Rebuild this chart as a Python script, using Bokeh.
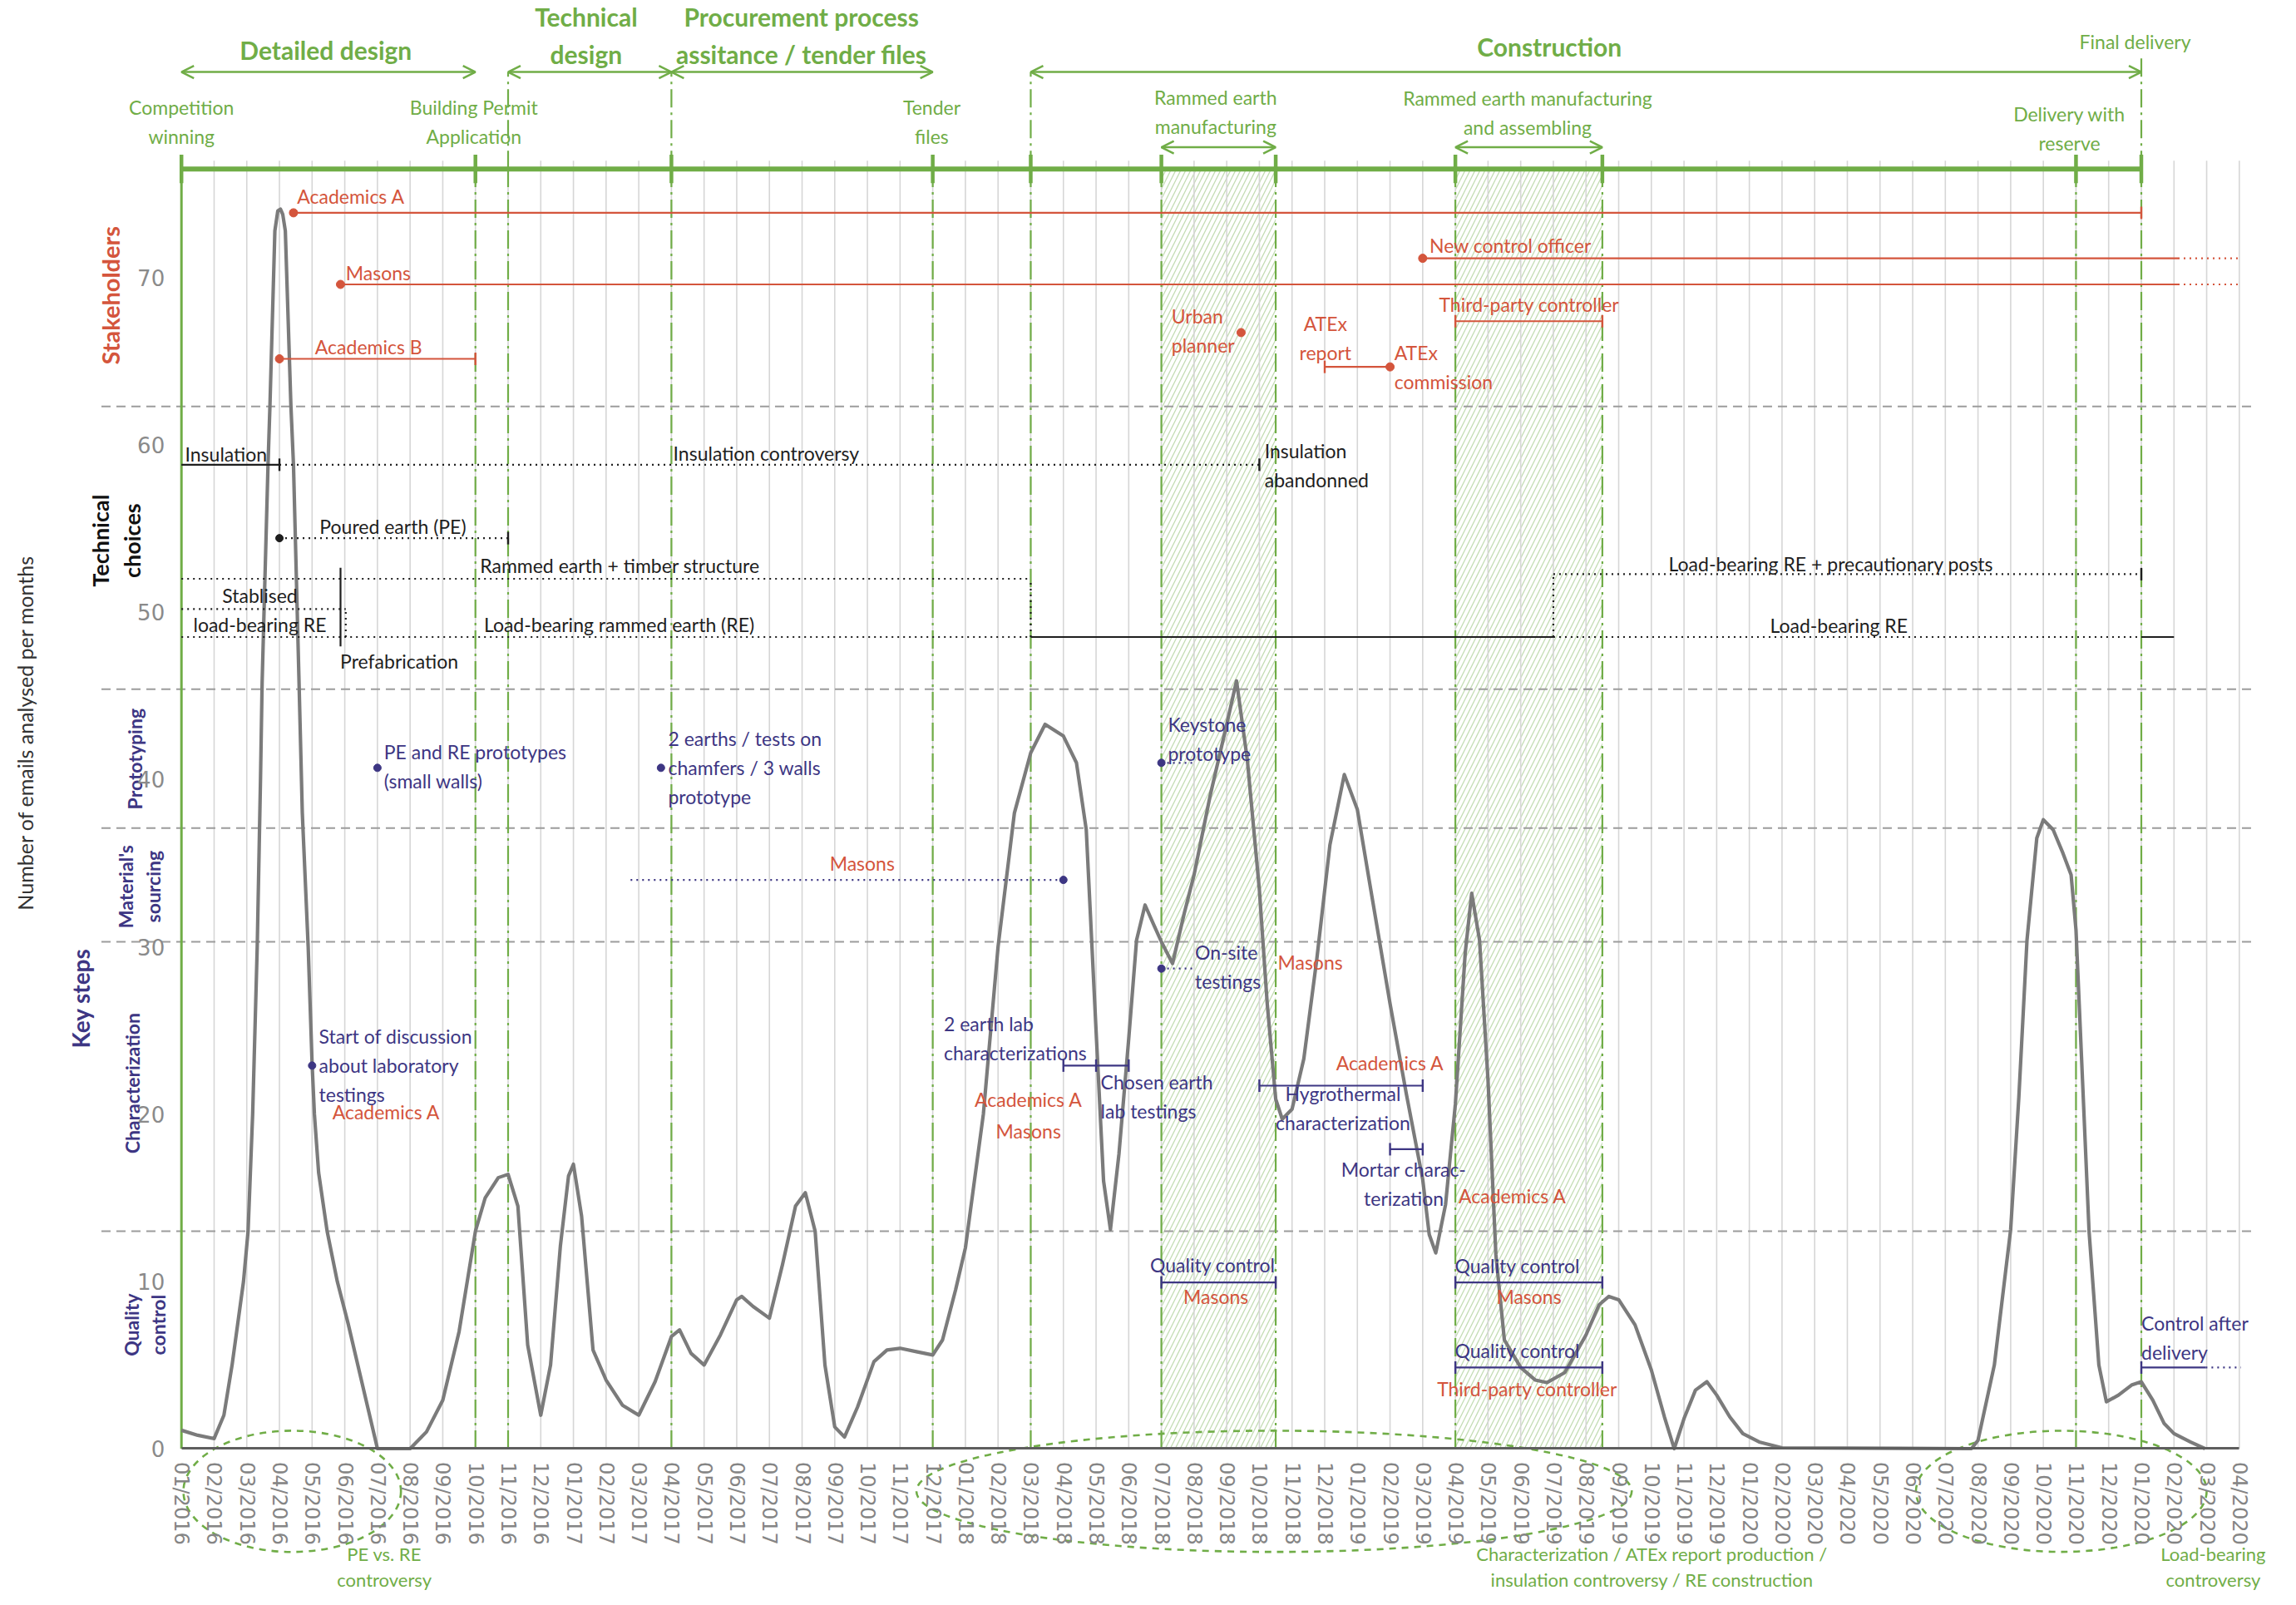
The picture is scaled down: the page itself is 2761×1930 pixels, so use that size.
import math
from bokeh.plotting import figure
from bokeh.models import Range1d, LinearAxis, FixedTicker, Arrow, OpenHead, ColumnDataSource
from bokeh.core.properties import value
from bokeh.embed import file_html
from bokeh.resources import INLINE

# ---------------- data ----------------
MONTH_LABELS = [
    "01/2016", "02/2016", "03/2016", "04/2016", "05/2016", "06/2016", "07/2016", "08/2016",
    "09/2016", "10/2016", "11/2016", "12/2016", "01/2017", "02/2017", "03/2017", "04/2017",
    "05/2017", "06/2017", "07/2017", "08/2017", "09/2017", "10/2017", "11/2017", "12/2017",
    "01/2018", "02/2018", "03/2018", "04/2018", "05/2018", "06/2018", "07/2018", "08/2018",
    "09/2018", "10/2018", "11/2018", "12/2018", "01/2019", "02/2019", "03/2019", "04/2019",
    "05/2019", "06/2019", "07/2019", "08/2019", "09/2019", "10/2019", "11/2019", "12/2019",
    "01/2020", "02/2020", "03/2020", "04/2020", "05/2020", "06/2020", "07/2020", "08/2020",
    "09/2020", "10/2020", "11/2020", "12/2020", "01/2020", "02/2020", "03/2020", "04/2020",
]
Y_TICKS = [0, 10, 20, 30, 40, 50, 60, 70]

# emails per month (month index, value)
CURVE_X = [0.0, 0.5, 1.0, 1.3, 1.55, 1.9, 2.04, 2.18, 2.32, 2.42, 2.47, 2.65, 2.71, 2.86, 2.95,
           3.03, 3.1, 3.18, 3.35, 3.43, 3.6, 3.7, 3.88, 4.0, 4.07, 4.2, 4.46, 4.77, 5.1, 5.4,
           5.7, 6.0, 7.0, 7.5, 8.0, 8.5, 9.0, 9.3, 9.7, 10.0, 10.3, 10.6, 11.0, 11.3, 11.6,
           11.85, 12.0, 12.25, 12.6, 13.0, 13.5, 14.0, 14.5, 15.0, 15.25, 15.6, 16.0, 16.5,
           17.0, 17.15, 17.5, 18.0, 18.4, 18.8, 19.1, 19.4, 19.7, 20.0, 20.3, 20.7, 21.2, 21.6,
           22.0, 22.5, 23.0, 23.3, 23.7, 24.0, 24.55, 25.0, 25.5, 26.0, 26.44, 27.0, 27.4, 27.7,
           28.0, 28.23, 28.44, 28.7, 29.0, 29.24, 29.5, 29.77, 30.0, 30.34, 30.7, 31.0, 31.5,
           32.0, 32.3, 32.63, 33.0, 33.24, 33.5, 33.7, 34.0, 34.36, 34.76, 35.16, 35.6, 36.0,
           36.36, 37.0, 37.5, 38.0, 38.2, 38.4, 38.7, 39.0, 39.3, 39.5, 39.74, 40.0, 40.24,
           40.5, 41.0, 41.45, 41.8, 42.35, 43.0, 43.4, 43.7, 44.0, 44.5, 45.0, 45.4, 45.7,
           46.0, 46.35, 46.7, 47.0, 47.4, 47.8, 48.3, 49.0, 54.8, 55.0, 55.5, 56.0, 56.25,
           56.5, 56.8, 57.0, 57.3, 57.6, 57.85, 58.0, 58.2, 58.4, 58.7, 58.93, 59.3, 59.7,
           60.0, 60.35, 60.7, 61.0, 61.5, 61.95]
CURVE_Y = [1.1, 0.8, 0.6, 2.0, 5.0, 10.0, 13.0, 20.0, 30.0, 40.0, 45.8, 58.8, 62.4, 72.8, 74.0,
           74.1, 73.8, 72.8, 62.4, 58.8, 45.8, 38.0, 30.0, 23.0, 20.0, 16.5, 13.0, 10.0, 7.5, 5.0,
           2.5, 0.0, 0.0, 1.0, 2.9, 7.0, 13.0, 15.0, 16.2, 16.4, 14.5, 6.2, 2.0, 5.0, 12.1,
           16.3, 17.0, 13.9, 5.9, 4.1, 2.6, 2.0, 4.0, 6.7, 7.1, 5.7, 5.0, 6.8,
           8.9, 9.1, 8.5, 7.8, 11.0, 14.5, 15.3, 13.0, 5.0, 1.3, 0.7, 2.5, 5.2, 5.9,
           6.0, 5.8, 5.6, 6.5, 9.5, 12.0, 20.0, 30.0, 38.0, 41.6, 43.3, 42.6, 41.0, 37.0,
           25.0, 16.0, 13.1, 17.6, 24.5, 30.4, 32.5, 31.3, 30.3, 29.0, 32.0, 34.3, 39.1,
           43.3, 45.9, 41.2, 33.4, 26.6, 20.9, 19.7, 20.3, 23.3, 29.3, 36.1, 40.3, 38.2,
           34.0, 26.6, 21.2, 16.1, 12.8, 11.7, 14.6, 20.6, 29.6, 33.2, 30.4, 22.0, 11.6,
           6.5, 4.85, 4.1, 3.95, 4.55, 6.8, 8.6, 9.1, 8.9, 7.4, 4.7, 1.9, 0.0,
           1.8, 3.5, 4.0, 3.2, 1.9, 0.9, 0.4, 0.05, 0.0, 0.5, 5.0, 13.1, 21.0,
           30.4, 36.5, 37.6, 37.0, 35.6, 34.3, 31.0, 22.0, 13.0, 5.0, 2.8, 3.2, 3.8,
           4.0, 2.9, 1.5, 0.9, 0.4, 0.0]

# project timeline
TIMELINE_LEVEL = 76.5
TIMELINE_START, TIMELINE_END = 0, 60
MILESTONE_X = [0, 9, 15, 23, 26, 30, 33.5, 39, 43.5, 58, 60]
BOUNDARY_X = [9, 10, 15, 23, 26, 30, 33.5, 39, 43.5, 58, 60]
UPPER_BOUNDARY_X = [10, 15, 26, 60]
UPPER_BOUNDARY_TOP = [82.3, 82.3, 82.3, 83.3]

PHASE_NAMES = ["Detailed design", "Technical\ndesign",
               "Procurement process\nassitance / tender files", "Construction"]
PHASE_START = [0, 10, 15, 26]
PHASE_END = [9, 15, 23, 60]
PHASE_LEVEL = [82.3, 82.3, 82.3, 82.3]
PHASE_LABEL_X = [4.42, 12.39, 18.98, 41.88]
PHASE_LABEL_Y = [83.6, 84.5, 84.5, 83.8]

SUBPHASE_START = [30, 39]
SUBPHASE_END = [33.5, 43.5]
SUBPHASE_LEVEL = [77.8, 77.8]

MILESTONE_NAMES = ["Competition\nwinning", "Building Permit\nApplication", "Tender\nfiles",
                   "Rammed earth\nmanufacturing", "Rammed earth manufacturing\nand assembling",
                   "Delivery with\nreserve", "Final delivery"]
MILESTONE_LABEL_X = [0, 8.95, 22.97, 31.66, 41.21, 57.8, 59.81]
MILESTONE_LABEL_Y = [79.3, 79.3, 79.3, 79.9, 79.85, 78.9, 84.1]

SECTION_BREAKS = [62.3, 45.4, 37.1, 30.3, 13.0]

# controversies (ellipses)
CONTRO_NAMES = ["PE vs. RE\ncontroversy",
                "Characterization / ATEx report production /\ninsulation controversy / RE construction",
                "Load-bearing\ncontroversy"]
CONTRO_X = [3.39, 33.45, 57.55]
CONTRO_W = [6.66, 21.9, 8.9]
CONTRO_LABEL_X = [6.21, 45.02, 62.2]

# stakeholders (red)
RED_LINE_X0 = [3.43, 4.87, 3.0, 38.0, 39.0, 35.0]
RED_LINE_X1 = [60.0, 61.12, 9.0, 61.12, 43.5, 37.0]
RED_LINE_Y = [73.88, 69.6, 65.15, 71.16, 67.4, 64.67]
RED_DOT_LINE_X0 = [61.12, 61.12]
RED_DOT_LINE_X1 = [63.0, 63.0]
RED_DOT_LINE_Y = [69.6, 71.16]
RED_DOTS_X = [3.43, 4.87, 3.0, 38.0, 32.44, 37.0]
RED_DOTS_Y = [73.88, 69.6, 65.15, 71.16, 66.72, 64.67]
RED_TICKS_X = [60, 9, 39, 43.5, 35]
RED_TICKS_Y = [73.88, 65.15, 67.4, 67.4, 64.67]

# technical choices (black)
BLK_LINE_X0 = [0, 26, 60, 4.87]
BLK_LINE_X1 = [3, 42, 61, 4.87]
BLK_LINE_Y0 = [58.82, 48.52, 48.52, 47.96]
BLK_LINE_Y1 = [58.82, 48.52, 48.52, 52.66]
BLK_DOT_X0 = [3, 3, 0, 0, 0, 42, 42, 26, 5.03, 42]
BLK_DOT_X1 = [33, 10, 26, 5.03, 26, 60, 60, 26, 5.03, 42]
BLK_DOT_Y0 = [58.82, 54.43, 52.0, 50.19, 48.52, 52.28, 48.52, 48.52, 48.52, 48.52]
BLK_DOT_Y1 = [58.82, 54.43, 52.0, 50.19, 48.52, 52.28, 48.52, 52.0, 50.19, 52.28]
BLK_TICKS_X = [3, 33, 10, 60]
BLK_TICKS_Y = [58.82, 58.82, 54.43, 52.28]
BLK_DOTS_X = [3.0]
BLK_DOTS_Y = [54.43]

# key steps (purple)
PUR_LINE_X0 = [27, 33, 37, 30, 39, 39, 60]
PUR_LINE_X1 = [29, 38, 38, 33.5, 43.5, 43.5, 61.97]
PUR_LINE_Y = [22.9, 21.7, 17.9, 9.94, 9.94, 4.85, 4.85]
PUR_DOT_LINE_X0 = [13.75, 30, 30, 61.97]
PUR_DOT_LINE_X1 = [27, 31.03, 31.03, 63.05]
PUR_DOT_LINE_Y = [34.0, 41.0, 28.7, 4.85]
PUR_TICKS_X = [27, 28, 29, 33, 38, 37, 38, 30, 33.5, 39, 43.5, 39, 43.5, 60]
PUR_TICKS_Y = [22.9, 22.9, 22.9, 21.7, 21.7, 17.9, 17.9, 9.94, 9.94, 9.94, 9.94, 4.85, 4.85, 4.85]
PUR_DOTS_X = [6.0, 14.68, 4.0, 27, 30, 30]
PUR_DOTS_Y = [40.7, 40.7, 22.9, 34.0, 41.0, 28.7]

# annotation texts
RED_TEXT = ["Academics A", "Masons", "Academics B", "New control officer", "Third-party controller",
            "Urban\nplanner", "ATEx\ncommission", "Academics A", "Masons", "Academics A"]
RED_TEXT_X = [3.54, 5.03, 4.09, 38.21, 38.5, 30.31, 37.13, 4.62, 33.56, 39.1]
RED_TEXT_Y = [74.88, 70.3, 65.85, 71.95, 68.4, 66.83, 64.65, 20.15, 29.1, 15.1]
RED_CTEXT = ["ATEx\nreport", "Masons", "Academics A", "Masons", "Academics A", "Masons", "Masons",
             "Third-party controller"]
RED_CTEXT_X = [35.02, 20.84, 25.93, 25.93, 37.0, 31.67, 41.25, 41.2]
RED_CTEXT_Y = [66.39, 35.0, 20.9, 19.0, 23.05, 9.1, 9.1, 3.6]

BLK_TEXT = ["Insulation", "Insulation\nabandonned", "Poured earth (PE)",
            "Rammed earth + timber structure", "Load-bearing rammed earth (RE)", "Prefabrication"]
BLK_TEXT_X = [0.11, 33.16, 4.23, 9.14, 9.26, 4.86]
BLK_TEXT_Y = [59.47, 58.8, 55.13, 52.8, 49.29, 47.1]
BLK_CTEXT = ["Insulation controversy", "Stablised\nload-bearing RE",
             "Load-bearing RE + precautionary posts", "Load-bearing RE"]
BLK_CTEXT_X = [17.9, 2.4, 50.5, 50.74]
BLK_CTEXT_Y = [59.5, 50.15, 52.9, 49.2]

PUR_TEXT = ["PE and RE prototypes\n(small walls)", "2 earths / tests on\nchamfers / 3 walls\nprototype",
            "Start of discussion\nabout laboratory\ntestings", "2 earth lab\ncharacterizations",
            "Chosen earth\nlab testings", "Keystone\nprototype", "On-site\ntestings",
            "Control after\ndelivery"]
PUR_TEXT_X = [6.2, 14.9, 4.21, 23.34, 28.14, 30.2, 31.03, 60.0]
PUR_TEXT_Y = [40.8, 40.7, 22.9, 24.55, 21.05, 42.45, 28.8, 6.65]
PUR_CTEXT = ["Hygrothermal\ncharacterization", "Mortar charac-\nterization",
             "Quality control", "Quality control", "Quality control"]
PUR_CTEXT_X = [35.56, 37.42, 31.57, 40.9, 40.9]
PUR_CTEXT_Y = [20.35, 15.85, 11.0, 10.94, 5.87]

SIDE_LABELS = ["Stakeholders", "Technical\nchoices", "Key steps", "Prototyping",
               "Material's\nsourcing", "Characterization", "Quality\ncontrol"]
SIDE_X = [-2.18, -2.0, -3.08, -1.42, -1.29, -1.51, -1.13]
SIDE_Y = [68.94, 54.28, 26.92, 41.23, 33.6, 21.84, 7.4]
SIDE_COLORS = ["#d4553c", "#111111", "#3d3683", "#3d3683", "#3d3683", "#3d3683", "#3d3683"]
SIDE_SIZES = ["29px", "27px", "28px", "23px", "23px", "23px", "23px"]
Y_TITLE = "Number of emails analysed per months"

# ---------------- styling ----------------
G = "#70ad47"
RED = "#d4553c"
PUR = "#3d3683"
BLK = "#1e1e1e"
FONT = value("Lato")
FS = value("23px")

W, H = 2745, 1914
# ranges calibrated so that month 0 / value 0 fall where they do in the reference picture
p = figure(width=W, height=H, x_range=Range1d(-5.5422, 64.3406), y_range=Range1d(-8.5757, 86.577),
           output_backend="svg", toolbar_location=None, x_axis_type=None, y_axis_type=None,
           min_border=0, min_border_left=0, min_border_right=0, min_border_top=0, min_border_bottom=0,
           outline_line_color=None, background_fill_color="white", border_fill_color="white")
p.xgrid.visible = False
p.ygrid.visible = False

# axes
xaxis = LinearAxis(fixed_location=0, bounds=(0, len(MONTH_LABELS) - 1),
                   ticker=FixedTicker(ticks=list(range(len(MONTH_LABELS)))),
                   major_label_overrides={i: s for i, s in enumerate(MONTH_LABELS)},
                   major_label_orientation=-math.pi / 2,
                   axis_line_color="#5e5e5e", axis_line_width=3,
                   major_tick_line_color=None, minor_tick_line_color=None,
                   major_label_text_font="DejaVu Sans", major_label_text_font_size="24px",
                   major_label_text_color="#858585", major_label_standoff=10)
p.add_layout(xaxis, "below")
yaxis = LinearAxis(fixed_location=0, ticker=FixedTicker(ticks=Y_TICKS),
                   axis_line_color=None, major_tick_line_color=None, minor_tick_line_color=None,
                   major_label_text_font="DejaVu Sans", major_label_text_font_size="26px",
                   major_label_text_color="#8a8a8a", major_label_standoff=14)
p.add_layout(yaxis, "left")

# hatched manufacturing periods
p.quad(left=SUBPHASE_START, right=SUBPHASE_END, bottom=[0, 0], top=[TIMELINE_LEVEL] * 2,
       fill_color=None, line_color=None, hatch_pattern="right_diagonal_line",
       hatch_color="#c3dcb3", hatch_scale=12, hatch_weight=1.3)

# monthly gridlines
gx = list(range(1, len(MONTH_LABELS)))
p.segment(x0=gx, y0=[0] * len(gx), x1=gx, y1=[77.0] * len(gx), line_color="#d6d6d6", line_width=1.6)

# section separators
n = len(SECTION_BREAKS)
p.segment(x0=[-2.45] * n, y0=SECTION_BREAKS, x1=[63.45] * n, y1=SECTION_BREAKS,
          line_color="#9c9c9c", line_width=2, line_dash="11 7")

# phase boundaries
nb = len(BOUNDARY_X)
p.segment(x0=BOUNDARY_X, y0=[0] * nb, x1=BOUNDARY_X, y1=[TIMELINE_LEVEL] * nb,
          line_color=G, line_width=2.2, line_dash="22 6 3 6")
p.segment(x0=UPPER_BOUNDARY_X, y0=[TIMELINE_LEVEL] * len(UPPER_BOUNDARY_X), x1=UPPER_BOUNDARY_X,
          y1=UPPER_BOUNDARY_TOP, line_color=G, line_width=2.2, line_dash="22 6 3 6")
# start line (y axis)
p.segment(x0=[0], y0=[0], x1=[0], y1=[TIMELINE_LEVEL], line_color=G, line_width=3)

# timeline
p.segment(x0=[TIMELINE_START], y0=[TIMELINE_LEVEL], x1=[TIMELINE_END], y1=[TIMELINE_LEVEL],
          line_color=G, line_width=6)
nm = len(MILESTONE_X)
p.segment(x0=MILESTONE_X, y0=[75.65] * nm, x1=MILESTONE_X, y1=[77.35] * nm, line_color=G, line_width=4.5)

# phase arrows
for xs, xe, lv in [(PHASE_START, PHASE_END, PHASE_LEVEL), (SUBPHASE_START, SUBPHASE_END, SUBPHASE_LEVEL)]:
    src = ColumnDataSource(dict(x0=xs, x1=xe, y=lv))
    p.add_layout(Arrow(x_start="x0", y_start="y", x_end="x1", y_end="y", source=src,
                       line_color=G, line_width=2.5,
                       start=OpenHead(size=15, line_color=G, line_width=2.5),
                       end=OpenHead(size=15, line_color=G, line_width=2.5)))

# controversies
p.ellipse(x=CONTRO_X, y=[-2.55] * 3, width=CONTRO_W, height=[7.25] * 3,
          fill_color=None, line_color=G, line_width=2.6, line_dash="8 7")

# emails curve
p.line(CURVE_X, CURVE_Y, line_color="#7b7b7b", line_width=4.2, line_join="round")


def seg(x0, x1, y0, y1, color, dash="solid", width=2.2):
    p.segment(x0=x0, x1=x1, y0=y0, y1=y1, line_color=color, line_width=width, line_dash=dash)


def ticks(x, y, color):
    p.scatter(x=x, y=y, marker="dash", angle=math.pi / 2, size=15, line_color=color, line_width=2.4)


def dots(x, y, color, size=10):
    p.scatter(x=x, y=y, marker="circle", size=size, fill_color=color, line_color=color)


# stakeholders
seg(RED_LINE_X0, RED_LINE_X1, RED_LINE_Y, RED_LINE_Y, RED)
seg(RED_DOT_LINE_X0, RED_DOT_LINE_X1, RED_DOT_LINE_Y, RED_DOT_LINE_Y, RED, "2 5")
ticks(RED_TICKS_X, RED_TICKS_Y, RED)
dots(RED_DOTS_X, RED_DOTS_Y, RED)

# technical choices
seg(BLK_LINE_X0, BLK_LINE_X1, BLK_LINE_Y0, BLK_LINE_Y1, BLK)
seg(BLK_DOT_X0, BLK_DOT_X1, BLK_DOT_Y0, BLK_DOT_Y1, BLK, "2 5")
ticks(BLK_TICKS_X, BLK_TICKS_Y, BLK)
dots(BLK_DOTS_X, BLK_DOTS_Y, BLK, 9)

# key steps
seg(PUR_LINE_X0, PUR_LINE_X1, PUR_LINE_Y, PUR_LINE_Y, PUR)
seg(PUR_DOT_LINE_X0, PUR_DOT_LINE_X1, PUR_DOT_LINE_Y, PUR_DOT_LINE_Y, PUR, "2 5")
ticks(PUR_TICKS_X, PUR_TICKS_Y, PUR)
dots(PUR_DOTS_X, PUR_DOTS_Y, PUR, 9)


def texts(t, x, y, color, align="left", size=FS, bold=False, angle=0.0, lh=1.25):
    p.text(x=x, y=y, text=t, text_color=color, text_align=align, text_baseline="middle",
           text_font=FONT, text_font_size=size, text_font_style="bold" if bold else "normal",
           angle=angle, text_line_height=lh)


texts(RED_TEXT, RED_TEXT_X, RED_TEXT_Y, RED)
texts(RED_CTEXT, RED_CTEXT_X, RED_CTEXT_Y, RED, "center")
texts(BLK_TEXT, BLK_TEXT_X, BLK_TEXT_Y, BLK)
texts(BLK_CTEXT, BLK_CTEXT_X, BLK_CTEXT_Y, BLK, "center")
texts(PUR_TEXT, PUR_TEXT_X, PUR_TEXT_Y, PUR)
texts(PUR_CTEXT, PUR_CTEXT_X, PUR_CTEXT_Y, PUR, "center")

texts(MILESTONE_NAMES, MILESTONE_LABEL_X, MILESTONE_LABEL_Y, G, "center")
texts(PHASE_NAMES, PHASE_LABEL_X, PHASE_LABEL_Y, G, "center", value("30px"), True, lh=1.25)
texts(CONTRO_NAMES, CONTRO_LABEL_X, [-7.05] * 3, G, "center", value("22px"), lh=1.15)

for lab, x, y, c, s in zip(SIDE_LABELS, SIDE_X, SIDE_Y, SIDE_COLORS, SIDE_SIZES):
    texts([lab], [x], [y], c, "center", value(s), True, math.pi / 2, 1.15)
texts([Y_TITLE], [-4.78], [42.8], "#333333", "center", value("25px"), False, math.pi / 2)

open("out.html", "w").write(file_html(p, INLINE))
